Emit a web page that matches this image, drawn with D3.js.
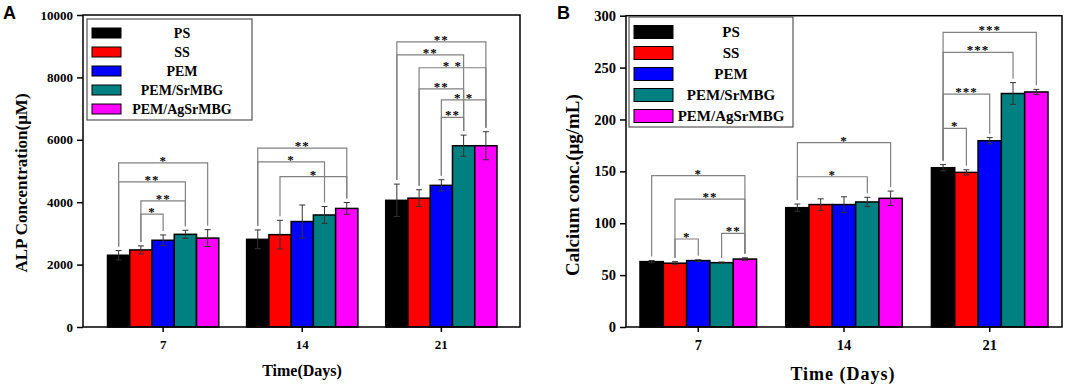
<!DOCTYPE html>
<html>
<head>
<meta charset="utf-8">
<script src="https://cdn.jsdelivr.net/npm/d3@7"></script>
<style>
  body { margin: 0; background: #fff; }
  svg { display: block; }
</style>
</head>
<body>
<svg id="chart" width="1065" height="388"></svg>
<script>
  // ---- data ----
  var days = ['7', '14', '21'];
  var groups = ['PS', 'SS', 'PEM', 'PEM/SrMBG', 'PEM/AgSrMBG'];
  var colors = ['#000000', '#ff0000', '#0000ff', '#008080', '#ff00ff'];

  // ALP concentration (uM), rows = day, cols = group
  var alpMean = [[2300, 2470, 2780, 2970, 2850], [2810, 2960, 3380, 3590, 3800], [4060, 4130, 4540, 5810, 5810]];
  var alpErr = [[150, 130, 170, 130, 270], [300, 460, 530, 270, 190], [520, 270, 180, 340, 450]];
  var alpTicks = [0, 2000, 4000, 6000, 8000, 10000];
  // [day index, from group, to group, bracket level, label]
  var alpSig = [
    [0, 0, 4, 5260, '*'], [0, 0, 3, 4650, '**'], [0, 1, 3, 4040, '**'], [0, 1, 2, 3620, '*'],
    [1, 0, 4, 5730, '**'], [1, 0, 3, 5290, '*'], [1, 1, 4, 4820, '*'],
    [2, 0, 4, 9140, '**'], [2, 0, 3, 8720, '**'], [2, 1, 4, 8310, '* *'],
    [2, 1, 3, 7630, '**'], [2, 2, 4, 7280, '* *'], [2, 2, 3, 6720, '**']
  ];

  // Calcium concentration (ug/mL)
  var caMean = [[63, 61.5, 64, 62, 65.5], [115, 118, 118, 120.5, 124], [153.5, 149, 179.5, 225, 226.5]];
  var caErr = [[1, 1.5, 0.8, 0.6, 1.2], [3.5, 5.5, 7.5, 4.5, 7], [3, 2.5, 3, 10.5, 2.5]];
  var caTicks = [0, 50, 100, 150, 200, 250, 300];
  var caSig = [
    [0, 0, 4, 145.8, '*'], [0, 1, 4, 123.3, '**'], [0, 3, 4, 90.3, '**'], [0, 1, 2, 84.8, '*'],
    [1, 0, 4, 177.6, '*'], [1, 0, 3, 144.8, '*'],
    [2, 0, 4, 283.9, '***'], [2, 0, 3, 264.6, '***'], [2, 0, 2, 224.5, '***'], [2, 0, 1, 191.4, '*']
  ];

  var serif = '"Liberation Serif", "Times New Roman", serif';
  var svg = d3.select('#chart');

  function drawPanel(p) {
    var g = svg.append('g');
    var x = d3.scaleBand().domain(days).range(p.bandRange).paddingInner(0.2).paddingOuter(0);
    var xs = d3.scaleBand().domain(groups).range([0, x.bandwidth()]);
    var y = d3.scaleLinear().domain([0, p.yMax]).range([p.frame.bottom, p.frame.top]);

    // bars
    days.forEach(function (day, di) {
      var gg = g.append('g').attr('transform', 'translate(' + x(day) + ',0)');
      gg.selectAll('rect').data(p.mean[di]).enter().append('rect')
        .attr('x', function (d, i) { return xs(groups[i]); })
        .attr('y', function (d) { return y(d); })
        .attr('width', xs.bandwidth())
        .attr('height', function (d) { return y(0) - y(d); })
        .attr('fill', function (d, i) { return colors[i]; })
        .attr('stroke', '#000').attr('stroke-width', 1.5);

      // error bars
      var eb = gg.selectAll('g.eb').data(p.mean[di]).enter().append('g').attr('class', 'eb')
        .attr('stroke', '#333').attr('stroke-width', 1);
      eb.append('line')
        .attr('x1', function (d, i) { return xs(groups[i]) + xs.bandwidth() / 2; })
        .attr('x2', function (d, i) { return xs(groups[i]) + xs.bandwidth() / 2; })
        .attr('y1', function (d, i) { return y(d - p.err[di][i]); })
        .attr('y2', function (d, i) { return y(d + p.err[di][i]); });
      [-1, 1].forEach(function (s) {
        eb.append('line')
          .attr('x1', function (d, i) { return xs(groups[i]) + xs.bandwidth() / 2 - 3; })
          .attr('x2', function (d, i) { return xs(groups[i]) + xs.bandwidth() / 2 + 3; })
          .attr('y1', function (d, i) { return y(d + s * p.err[di][i]); })
          .attr('y2', function (d, i) { return y(d + s * p.err[di][i]); });
      });
    });

    // significance brackets
    var sg = g.append('g').style('opacity', 0.99);
    p.sig.forEach(function (s) {
      var day = days[s[0]];
      var cx = function (gi) { return x(day) + xs(groups[gi]) + xs.bandwidth() / 2; };
      var x1 = cx(s[1]), x2 = cx(s[2]), yl = y(s[3]);
      var b1 = y(p.mean[s[0]][s[1]] + p.err[s[0]][s[1]]) - 4;
      var b2 = y(p.mean[s[0]][s[2]] + p.err[s[0]][s[2]]) - 4;
      sg.append('path')
        .attr('d', 'M' + x1 + ',' + b1 + 'V' + yl + 'H' + x2 + 'V' + b2)
        .attr('fill', 'none').attr('stroke', '#808080').attr('stroke-width', 1.2);
      sg.append('text')
        .attr('x', (x1 + x2) / 2).attr('y', yl + 2)
        .attr('text-anchor', 'middle').attr('fill', '#000')
        .style('font-family', serif).style('font-weight', 'bold').style('font-size', '13px')
        .style('letter-spacing', '1px')
        .text(s[4]);
    });

    // frame
    g.append('rect')
      .attr('x', p.frame.left).attr('y', p.frame.top)
      .attr('width', p.frame.right - p.frame.left).attr('height', p.frame.bottom - p.frame.top)
      .attr('fill', 'none').attr('stroke', '#000').attr('stroke-width', 1.5);

    // axes
    var ya = g.append('g').attr('transform', 'translate(' + p.frame.left + ',0)')
      .call(d3.axisLeft(y).tickValues(p.ticks).tickFormat(d3.format('d'))
        .tickSize(6).tickSizeOuter(0).tickPadding(4));
    ya.select('.domain').remove();
    ya.selectAll('.tick line').attr('stroke-width', 1.5);
    ya.selectAll('.tick text').attr('fill', '#000')
      .style('font-family', serif).style('font-weight', 'bold').style('font-size', p.tickFont + 'px');

    var xa = g.append('g').attr('transform', 'translate(0,' + p.frame.bottom + ')')
      .call(d3.axisBottom(x).tickSize(5).tickSizeOuter(0).tickPadding(8));
    xa.select('.domain').remove();
    xa.selectAll('.tick line').attr('stroke-width', 1.5);
    xa.selectAll('.tick text').attr('fill', '#000')
      .style('font-family', serif).style('font-weight', 'bold').style('font-size', p.tickFont + 'px');

    // titles
    g.append('text')
      .attr('transform', 'translate(' + p.yTitle[0] + ',' + p.yTitle[1] + ') rotate(-90)')
      .attr('text-anchor', 'middle').attr('dy', '0.35em')
      .style('font-family', serif).style('font-weight', 'bold').style('font-size', p.yTitleFont + 'px')
      .text(p.yLabel);
    g.append('text')
      .attr('x', p.xTitle[0]).attr('y', p.xTitle[1])
      .attr('text-anchor', 'middle')
      .style('font-family', serif).style('font-weight', 'bold').style('font-size', p.xTitleFont + 'px')
      .style('letter-spacing', p.xTitleSpacing + 'px')
      .text(p.xLabel);
    g.append('text')
      .attr('x', p.letterPos[0]).attr('y', p.letterPos[1])
      .style('font-family', 'Liberation Sans, Arial, sans-serif').style('font-weight', 'bold').style('font-size', '18px')
      .text(p.letter);

    // legend
    var L = p.legend;
    var lg = g.append('g');
    lg.append('rect').attr('x', L.x).attr('y', L.y).attr('width', L.w).attr('height', L.h)
      .attr('fill', '#fff').attr('stroke', '#555').attr('stroke-width', 1.2);
    groups.forEach(function (name, i) {
      var cy = L.y + L.first + i * L.step;
      lg.append('rect').attr('x', L.x + 5).attr('y', cy - L.sh / 2).attr('width', L.sw).attr('height', L.sh)
        .attr('fill', colors[i]).attr('stroke', '#000').attr('stroke-width', 1);
      lg.append('text').attr('x', L.tx).attr('y', cy).attr('dy', '0.35em')
        .attr('text-anchor', 'middle')
        .style('font-family', serif).style('font-weight', 'bold').style('font-size', L.font + 'px')
        .text(name);
    });
  }

  drawPanel({
    frame: { left: 83, right: 520, top: 15, bottom: 327 },
    bandRange: [107.5, 497],
    yMax: 10000, ticks: alpTicks, mean: alpMean, err: alpErr, sig: alpSig,
    tickFont: 13,
    yLabel: 'ALP Concentration(\u03bcM)', yTitle: [21, 183], yTitleFont: 17,
    xLabel: 'Time(Days)', xTitle: [302, 376], xTitleFont: 16, xTitleSpacing: 0,
    letter: 'A', letterPos: [3, 19],
    legend: { x: 87, y: 19, w: 165, h: 101, first: 14, step: 19, sw: 29, sh: 10, tx: 182, font: 14 }
  });

  drawPanel({
    frame: { left: 626, right: 1062, top: 15.7, bottom: 327 },
    bandRange: [640, 1048],
    yMax: 300, ticks: caTicks, mean: caMean, err: caErr, sig: caSig,
    tickFont: 14.5,
    yLabel: 'Calcium conc.(\u03bcg/mL)', yTitle: [572, 185], yTitleFont: 19,
    xLabel: 'Time (Days)', xTitle: [843, 380], xTitleFont: 18, xTitleSpacing: 1,
    letter: 'B', letterPos: [557, 19],
    legend: { x: 629, y: 17, w: 164, h: 110, first: 15, step: 21, sw: 39, sh: 13, tx: 731, font: 15 }
  });
</script>
</body>
</html>
